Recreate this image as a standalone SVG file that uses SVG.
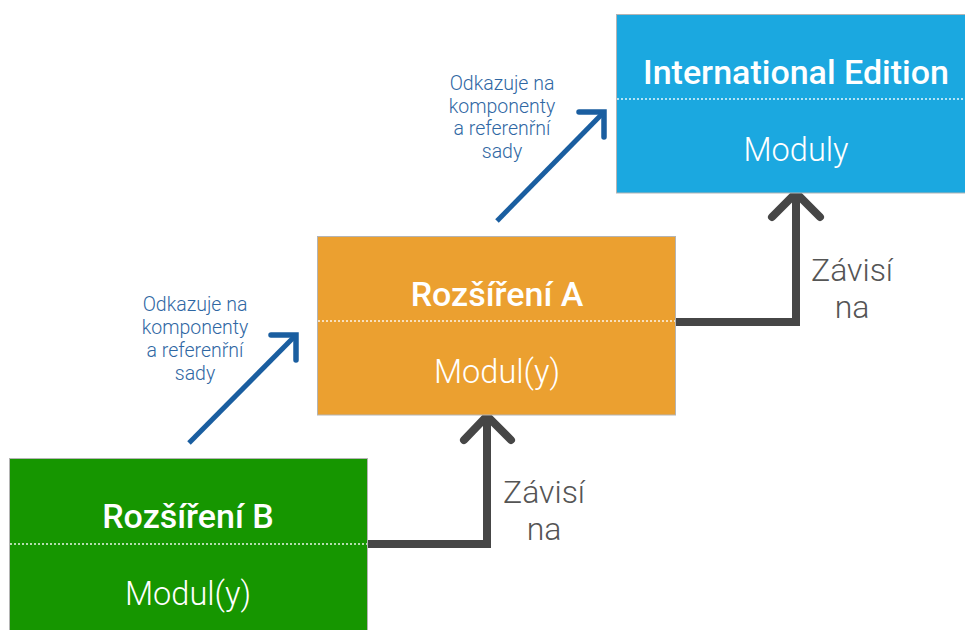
<svg xmlns="http://www.w3.org/2000/svg" width="965" height="630" viewBox="0 0 965 630">
  <defs>
    <style>
      .box { stroke: #b4b4b4; stroke-width: 1; }
      .sep { stroke: #ffffff; stroke-width: 1.5; stroke-dasharray: 2 2; opacity: 0.9; }
      .title { font-family: Roboto, "Liberation Sans", sans-serif; font-weight: 500; font-size: 34px; fill: #ffffff; text-anchor: middle; }
      .sub { font-family: Roboto, "Liberation Sans", sans-serif; font-weight: 300; font-size: 32.5px; fill: #ffffff; text-anchor: middle; }
      .dep { fill: none; stroke: #464646; stroke-width: 8; stroke-linejoin: miter; }
      .head { fill: none; stroke: #464646; stroke-width: 8; stroke-linecap: round; stroke-linejoin: miter; }
      .ref { fill: none; stroke: #1a5ea0; stroke-width: 5; stroke-linecap: butt; }
      .refhead { fill: none; stroke: #1a5ea0; stroke-width: 5.5; stroke-linecap: round; stroke-linejoin: miter; }
      .deplabel { font-family: Roboto, "Liberation Sans", sans-serif; font-weight: 300; font-size: 32px; fill: #555555; text-anchor: middle; }
      .reflabel { font-family: Roboto, "Liberation Sans", sans-serif; font-weight: 300; font-size: 19.5px; fill: #2f67a3; text-anchor: middle; }
    </style>
  </defs>

  <rect width="965" height="630" fill="#ffffff"/>

  <!-- connectors -->
  <g id="connectors">
    <!-- Rozšíření A depends on International Edition -->
    <polyline class="dep" points="676,322 796,322 796,195"/>
    <polyline class="head" points="772,217 796,193 820,217"/>
    <!-- Rozšíření B depends on Rozšíření A -->
    <polyline class="dep" points="367,544 487,544 487,417"/>
    <polyline class="head" points="464,440 487,416 511,440"/>
    <!-- references -->
    <line class="ref" x1="497" y1="221" x2="603" y2="113"/>
    <polyline class="refhead" points="579,112 604,112 604,137"/>
    <line class="ref" x1="189" y1="443" x2="295" y2="336"/>
    <polyline class="refhead" points="271,335 296,335 296,360"/>
  </g>

  <!-- connector labels -->
  <g id="labels">
    <text class="deplabel" x="852" y="281">Závisí</text>
    <text class="deplabel" x="852" y="318">na</text>
    <text class="deplabel" x="544" y="503">Závisí</text>
    <text class="deplabel" x="544" y="540">na</text>
    <text class="reflabel" x="502" y="90">Odkazuje na</text>
    <text class="reflabel" x="502" y="113">komponenty</text>
    <text class="reflabel" x="502" y="135">a referenřní</text>
    <text class="reflabel" x="502" y="158">sady</text>
    <text class="reflabel" x="195" y="311">Odkazuje na</text>
    <text class="reflabel" x="195" y="334">komponenty</text>
    <text class="reflabel" x="195" y="357">a referenřní</text>
    <text class="reflabel" x="195" y="380">sady</text>
  </g>

  <!-- International Edition -->
  <g id="international-edition">
    <rect class="box" x="616.5" y="14.5" width="360" height="178.5" fill="#1ba8e0"/>
    <line class="sep" x1="617" y1="99" x2="965" y2="99"/>
    <text class="title" x="796" y="84">International Edition</text>
    <text class="sub" x="796" y="161">Moduly</text>
  </g>

  <!-- Rozšíření A -->
  <g id="rozsireni-a">
    <rect class="box" x="317.5" y="236.5" width="358" height="178.5" fill="#eba030"/>
    <line class="sep" x1="318" y1="321" x2="675" y2="321"/>
    <text class="title" x="497" y="306">Rozšíření A</text>
    <text class="sub" x="497" y="383">Modul(y)</text>
  </g>

  <!-- Rozšíření B -->
  <g id="rozsireni-b">
    <rect class="box" x="9.5" y="458.5" width="358" height="180" fill="#169600"/>
    <line class="sep" x1="10" y1="544" x2="367" y2="544"/>
    <text class="title" x="188" y="528">Rozšíření B</text>
    <text class="sub" x="188" y="605">Modul(y)</text>
  </g>
</svg>
